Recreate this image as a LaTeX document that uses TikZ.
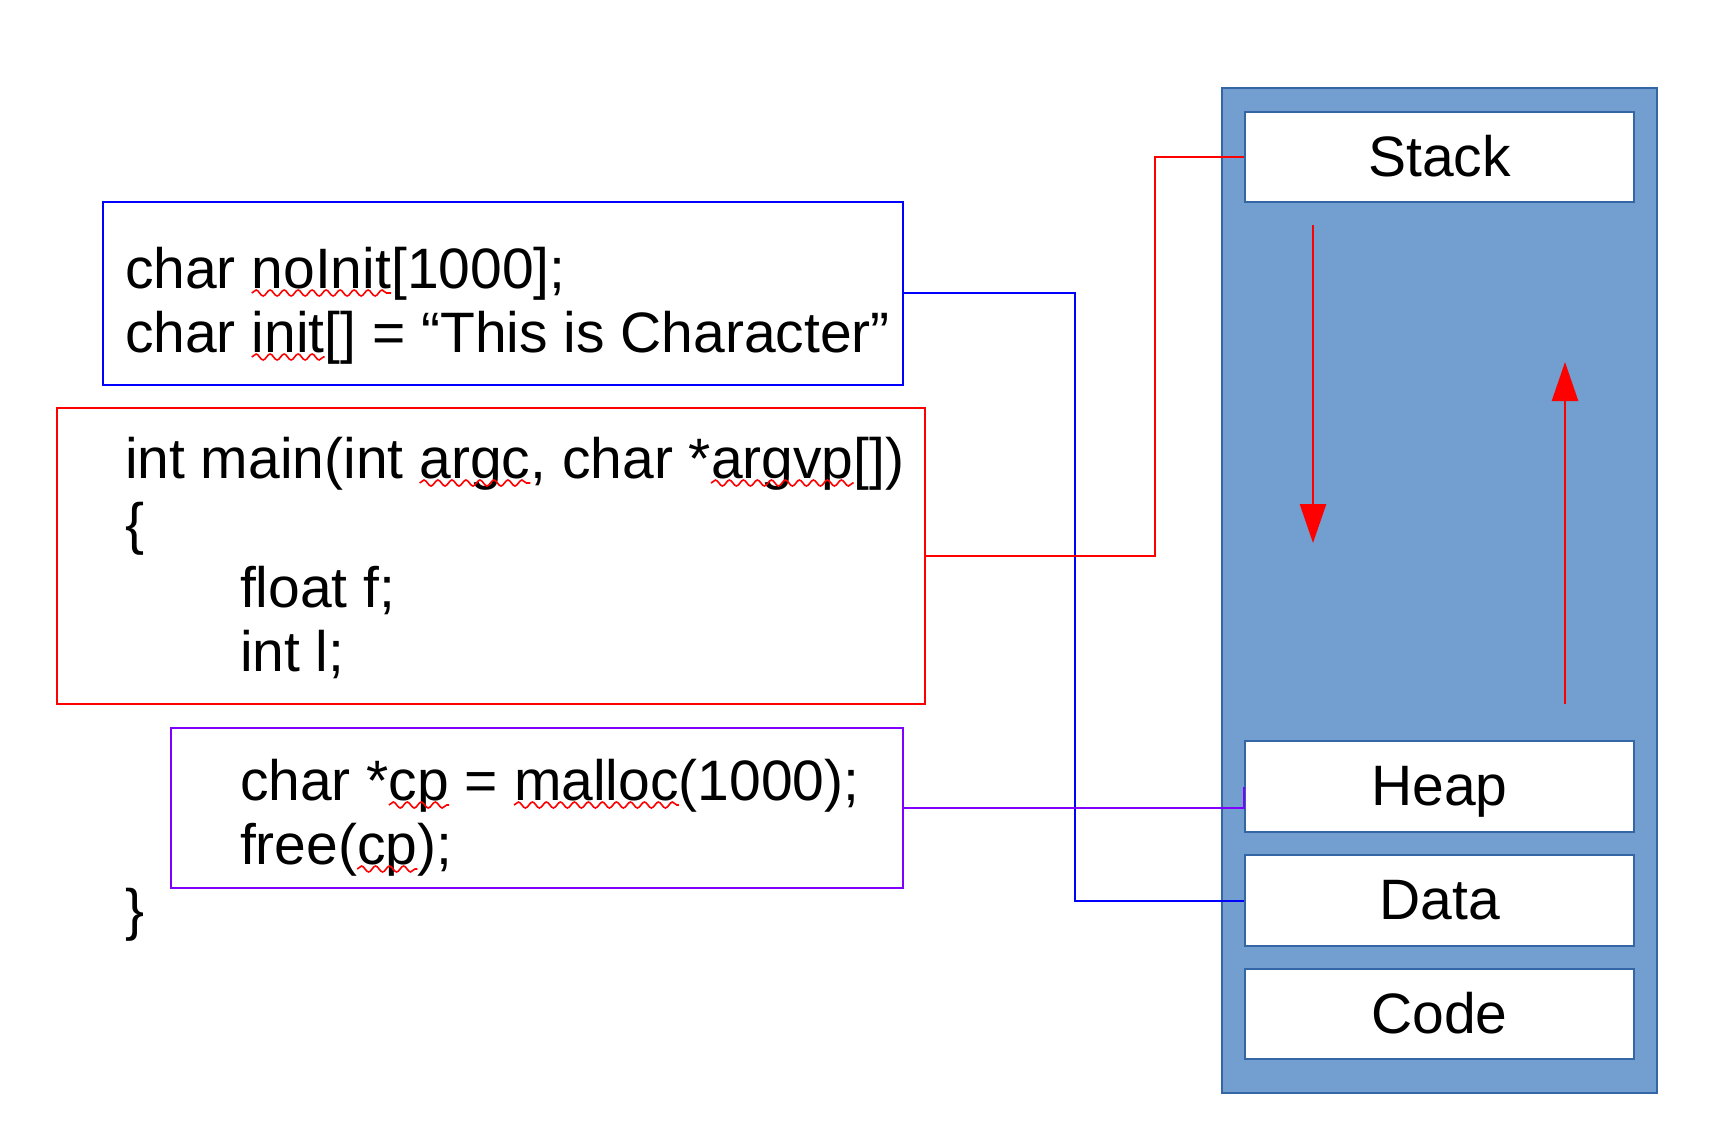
\documentclass[tikz,border=0pt]{standalone}
\usepackage{fontspec}
\setmainfont{Liberation Sans}
\newfontfamily\codefont{Liberation Sans}
\usetikzlibrary{arrows.meta,decorations.pathmorphing}
\definecolor{memfill}{HTML}{729FCF}
\definecolor{memline}{HTML}{3465A4}
\definecolor{pur}{HTML}{8000FF}
\definecolor{blu}{HTML}{0000FF}
\definecolor{rd}{HTML}{FF0000}
\tikzset{
  txt/.style={inner sep=0pt, outer sep=0pt, anchor=base west, font=\fontsize{57}{65}\selectfont},
  codebox/.style={draw, line width=2pt, inner sep=0pt},
  segbox/.style={draw=memline, fill=white, line width=2pt, minimum width=389pt, inner sep=0pt,
                 text height=38pt, text depth=0pt, font=\fontsize{57}{65}\selectfont},
  squig/.style={rd, line width=1.6pt, decorate, decoration={snake, amplitude=3pt, segment length=14pt}},
  conn/.style={line width=2pt},
  growarrow/.style={rd, line width=2.5pt, -{Triangle[length=39pt,width=26pt]}}
}
\begin{document}
\begin{tikzpicture}[x=1pt,y=-1pt]
\useasboundingbox[fill=white] (0,0) rectangle (1709,1136);

% code boxes
\node[codebox, draw=blu, minimum width=800pt, minimum height=183pt] (bluebox) at (502.5,293.2) {};
\node[codebox, draw=rd, minimum width=868.6pt, minimum height=296.4pt] (redbox) at (491,555.8) {};
\node[codebox, draw=pur, minimum width=731.5pt, minimum height=160pt] (purbox) at (536.75,807.5) {};

% line 1
\node[txt] (a1) at (125,288) {char\ \null};
\node[txt] (w1) at (a1.base east) {noInit};
\node[txt] (a1b) at (w1.base east) {[1000];};
% line 2
\node[txt] (a2) at (125,352) {char\ \null};
\node[txt] (w2) at (a2.base east) {init};
\node[txt] (a2b) at (w2.base east) {[] = “This is Character”};
% line 3
\node[txt] (a3) at (125,478) {int main(int\ \null};
\node[txt] (w3) at (a3.base east) {argc};
\node[txt] (a3b) at (w3.base east) {,\ char *};
\node[txt] (w4) at (a3b.base east) {argvp};
\node[txt] (a3c) at (w4.base east) {[])};
% line 4-6
\node[txt] (a4) at (125,543) {\{};
\node[txt] (a5) at (240,607) {float f;};
\node[txt] (a6) at (240,671) {int l;};
% line 7
\node[txt] (a7) at (240,800) {char *};
\node[txt] (w5) at (a7.base east) {cp};
\node[txt] (a7b) at (w5.base east) {\null\ =\ \null};
\node[txt] (w6) at (a7b.base east) {malloc};
\node[txt] (a7c) at (w6.base east) {(1000);};
% line 8
\node[txt] (a8) at (240,864) {free(};
\node[txt] (w7) at (a8.base east) {cp};
\node[txt] (a8b) at (w7.base east) {);};
% line 9
\node[txt] (a9) at (125,929) {\}};

% squiggles
\foreach \w in {w1,w2,w3,w4,w5,w6,w7}
  \draw[squig] ([yshift=-5pt]\w.base west) -- ([yshift=-5pt]\w.base east);

% memory layout
\node[draw=memline, fill=memfill, line width=2pt, minimum width=435pt, minimum height=1005pt, inner sep=0pt] (mem) at (1439.5,590.5) {};
\node[segbox, minimum height=90pt] (stack) at (1439.5,157) {Stack};
\node[segbox, minimum height=91pt] (heap) at (1439.5,786.5) {Heap};
\node[segbox, minimum height=91pt] (data) at (1439.5,900.5) {Data};
\node[segbox, minimum height=90pt] (code) at (1439.5,1014) {Code};

% growth arrows
\coordinate (dtop) at (1313,225);
\coordinate (dbot) at (1313,543);
\coordinate (ubot) at (1565,704);
\coordinate (utop) at (1565,362);
\draw[growarrow] (dtop) -- (dbot);
\draw[growarrow] (ubot) -- (utop);

% connectors
\draw[conn, blu] (bluebox.east) -- ++(171,0) |- (data.west);
\draw[conn, rd] (redbox.east) -- ++(229,0) |- (stack.west);
\draw[conn, pur] (purbox.east) -| (heap.west);
\end{tikzpicture}
\end{document}
